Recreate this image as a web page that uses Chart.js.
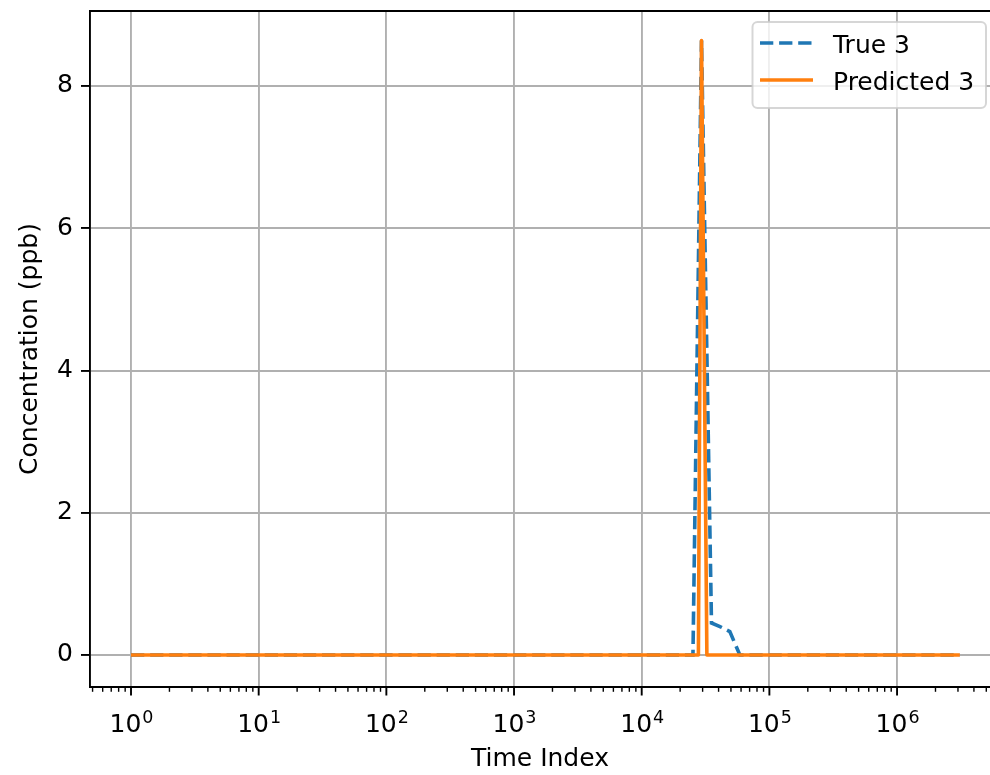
<!DOCTYPE html>
<html>
<head>
<meta charset="utf-8">
<script src="https://cdn.jsdelivr.net/npm/chart.js@4.4.0/dist/chart.umd.min.js"></script>
<style>
  html, body { margin: 0; padding: 0; background: #fff; }
  canvas { display: block; }
</style>
</head>
<body>
<canvas id="concChart" width="990" height="775"></canvas>
<script>
// values (time index on a log axis)
const trueIndex = [1, 25200, 29400, 35200, 41000, 49000, 58700, 3100000];
const trueConc = [0, 0, 8.64, 0.45, 0.40, 0.33, 0, 0];
const predIndex = [1, 27800, 29400, 32400, 3100000];
const predConc = [0, 0, 8.64, 0, 0];
const seriesLabels = ['True 3', 'Predicted 3'];
const yTicks = [0, 2, 4, 6, 8];

function toPoints(xs, ys) {
    return xs.map((x, i) => ({ x: x, y: ys[i] }));
}

function isDecade(v) {
    const l = Math.log10(v);
    return Math.abs(l - Math.round(l)) < 1e-9;
}

const xMin = Math.pow(10, -0.3212);
const xMax = Math.pow(10, 6.728);

Chart.defaults.font.family = 'DejaVu Sans';
Chart.defaults.font.size = 25;
Chart.defaults.color = '#000';

// top spine, log tick marks with 10^n labels, framed legend inside the axes
const axesExtras = {
    id: 'axesExtras',
    afterDraw(chart) {
        const ctx = chart.ctx;
        const area = chart.chartArea;
        const xs = chart.scales.x;
        ctx.save();
        ctx.strokeStyle = '#000';
        ctx.lineWidth = 1.9;
        ctx.beginPath();
        ctx.moveTo(area.left - 1, area.top);
        ctx.lineTo(chart.width, area.top);
        ctx.stroke();

        xs.ticks.forEach(t => {
            const px = xs.getPixelForValue(t.value);
            const major = isDecade(t.value);
            ctx.lineWidth = major ? 1.9 : 1.4;
            ctx.beginPath();
            ctx.moveTo(px, area.bottom);
            ctx.lineTo(px, area.bottom + (major ? 8.5 : 4.8));
            ctx.stroke();
            if (major) {
                const base = '10';
                const exp = String(Math.round(Math.log10(t.value)));
                ctx.font = '25px "DejaVu Sans"';
                const w1 = ctx.measureText(base).width;
                ctx.font = '17.5px "DejaVu Sans"';
                const w2 = ctx.measureText(exp).width;
                const x0 = px - (w1 + w2) / 2;
                ctx.fillStyle = '#000';
                ctx.textAlign = 'left';
                ctx.textBaseline = 'alphabetic';
                ctx.font = '25px "DejaVu Sans"';
                ctx.fillText(base, x0, area.bottom + 45);
                ctx.font = '17.5px "DejaVu Sans"';
                ctx.fillText(exp, x0 + w1 + 1, area.bottom + 36);
            }
        });

        // legend
        ctx.beginPath();
        ctx.roundRect(752.5, 22, 233.5, 86, 5);
        ctx.fillStyle = 'rgba(255,255,255,0.8)';
        ctx.fill();
        ctx.strokeStyle = 'rgba(204,204,204,0.8)';
        ctx.lineWidth = 2;
        ctx.stroke();
        const rowY = [43, 80];
        chart.data.datasets.forEach((ds, i) => {
            ctx.strokeStyle = ds.borderColor;
            ctx.lineWidth = ds.borderWidth;
            ctx.setLineDash(ds.borderDash || []);
            ctx.beginPath();
            ctx.moveTo(760, rowY[i]);
            ctx.lineTo(813, rowY[i]);
            ctx.stroke();
            ctx.setLineDash([]);
            ctx.fillStyle = '#000';
            ctx.font = '25px "DejaVu Sans"';
            ctx.textBaseline = 'alphabetic';
            ctx.textAlign = 'left';
            ctx.fillText(ds.label, 833, rowY[i] + 10);
        });
        ctx.restore();
    }
};

new Chart(document.getElementById('concChart'), {
    type: 'line',
    data: {
        datasets: [{
            label: seriesLabels[0],
            data: toPoints(trueIndex, trueConc),
            borderColor: '#1f77b4',
            borderWidth: 3.6,
            borderDash: [13.3, 5.8],
            pointRadius: 0,
            tension: 0,
            order: 1
        }, {
            label: seriesLabels[1],
            data: toPoints(predIndex, predConc),
            borderColor: '#ff7f0e',
            borderWidth: 3.6,
            borderJoinStyle: 'round',
            pointRadius: 0,
            tension: 0,
            order: 0
        }]
    },
    options: {
        responsive: false,
        animation: false,
        layout: { padding: { top: 11, right: 0, bottom: 0, left: 0 } },
        plugins: {
            legend: { display: false },
            tooltip: { enabled: false }
        },
        scales: {
            x: {
                type: 'logarithmic',
                min: xMin,
                max: xMax,
                afterBuildTicks: function(scale) {
                    const ticks = [];
                    for (let e = -1; e <= 6; e++) {
                        for (let m = 1; m <= 9; m++) {
                            const v = m * Math.pow(10, e);
                            if (v >= xMin && v <= xMax) ticks.push({ value: v, major: m === 1 });
                        }
                    }
                    scale.ticks = ticks;
                },
                afterFit: function(scale) {
                    scale.height = 88;
                    scale.paddingLeft = 0;
                    scale.paddingRight = 0;
                },
                ticks: {
                    autoSkip: false,
                    maxRotation: 0,
                    callback: () => ''
                },
                grid: {
                    color: ctx => (ctx.tick && isDecade(ctx.tick.value)) ? '#b0b0b0' : 'rgba(0,0,0,0)',
                    lineWidth: 1.9,
                    tickLength: 9,
                    tickColor: 'rgba(0,0,0,0)'
                },
                border: { display: true, color: '#000', width: 1.9 },
                title: { display: true, text: 'Time Index', padding: { top: 0, bottom: 1 } }
            },
            y: {
                type: 'linear',
                min: -0.45,
                max: 9.054,
                afterBuildTicks: function(scale) {
                    scale.ticks = yTicks.map(v => ({ value: v }));
                },
                afterFit: function(scale) {
                    scale.width = 90;
                    scale.paddingTop = 0;
                    scale.paddingBottom = 0;
                },
                ticks: { padding: 8 },
                grid: {
                    color: '#b0b0b0',
                    lineWidth: 1.9,
                    tickLength: 9,
                    tickColor: '#000',
                    tickWidth: 1.9
                },
                border: { display: true, color: '#000', width: 1.9 },
                title: { display: true, text: 'Concentration (ppb)', padding: { top: 15, bottom: 0 } }
            }
        }
    },
    plugins: [axesExtras]
});
</script>
</body>
</html>
